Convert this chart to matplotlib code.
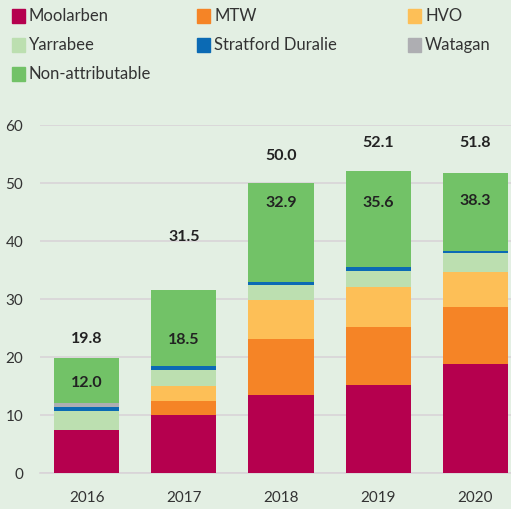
import matplotlib
matplotlib.use("Agg")
import matplotlib.pyplot as plt
import numpy as np
from matplotlib.patches import Rectangle

years = ["2016", "2017", "2018", "2019", "2020"]
series = ["Moolarben", "MTW", "HVO", "Yarrabee", "Stratford Duralie", "Watagan", "Non-attributable"]
moolarben = [7.5, 10.0, 13.4, 15.2, 18.8]
mtw = [0.0, 2.4, 9.7, 9.9, 9.8]
hvo = [0.0, 2.6, 6.8, 7.0, 6.0]
yarrabee = [3.2, 2.8, 2.6, 2.7, 3.4]
stratford = [0.7, 0.7, 0.4, 0.8, 0.3]
watagan = [0.6, 0.0, 0.0, 0.0, 0.0]
non_attributable = [7.8, 13.0, 17.1, 16.5, 13.5]
totals = ["19.8", "31.5", "50.0", "52.1", "51.8"]
attributable = ["12.0", "18.5", "32.9", "35.6", "38.3"]

colors = ["#b5004e", "#f58426", "#fdbf57", "#bcdfb0", "#0b6ab4", "#aeaeb2", "#72c267"]
bg = "#e3efe3"

plt.rcParams["font.family"] = ["Lato", "DejaVu Sans"]

fig = plt.figure(figsize=(5.11, 5.09), dpi=100)
fig.patch.set_facecolor(bg)
ax = fig.add_axes([0.078, 0.0707, 0.922, 0.6836])
ax.set_facecolor(bg)

x = np.arange(len(years))
bottom = np.zeros(len(years))
data = [moolarben, mtw, hvo, yarrabee, stratford, watagan, non_attributable]
for vals, c in zip(data, colors):
    ax.bar(x, vals, bottom=bottom, width=0.67, color=c, zorder=3)
    bottom += np.array(vals)

# label heights (above bar top / inside green section)
total_y = [23.1, 40.7, 54.7, 56.9, 56.9]
inner_y = [15.5, 22.9, 46.5, 46.5, 46.9]
for i in x:
    ax.text(i, total_y[i], totals[i], ha="center", va="center", fontsize=11.5,
            fontweight="bold", color="#222222")
    ax.text(i, inner_y[i], attributable[i], ha="center", va="center", fontsize=11.5,
            fontweight="bold", color="#222222", zorder=4)

ax.set_ylim(0, 60)
ax.set_xlim(-0.485, 4.37)
ax.set_yticks(range(0, 61, 10))
ax.set_xticks(x)
ax.set_xticklabels(years)
ax.grid(axis="y", color="#d9d4d8", linewidth=1.2, zorder=0)
for s in ["top", "right", "left"]:
    ax.spines[s].set_visible(False)
ax.spines["bottom"].set_color("#d9d4d8")
ax.spines["bottom"].set_linewidth(1.2)
ax.tick_params(length=0, labelsize=11, colors="#333333")
ax.tick_params(axis="x", pad=13)
ax.tick_params(axis="y", pad=12)

# legend
cols = [12, 197, 408]
rows = [16, 45, 74]
W, H = 511, 509
for k, name in enumerate(series):
    cx = cols[k % 3]
    cy = rows[k // 3]
    fig.patches.append(Rectangle((cx / W, (H - cy - 6.5) / H), 13 / W, 13 / H,
                                 transform=fig.transFigure, color=colors[k]))
    fig.text((cx + 17) / W, (H - cy) / H, name, ha="left", va="center",
             fontsize=12, color="#333333")

fig.savefig("out.png", dpi=100, facecolor=bg)
